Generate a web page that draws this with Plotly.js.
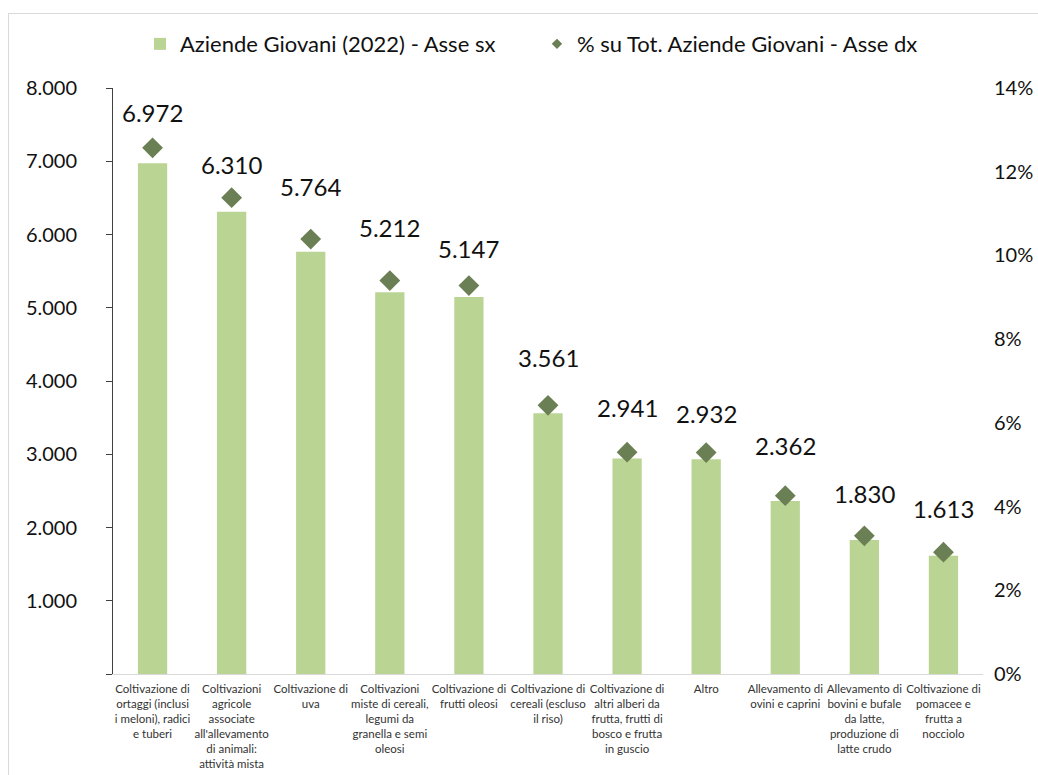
<!DOCTYPE html>
<html>
<head>
<meta charset="utf-8">
<script src="https://cdn.plot.ly/plotly-3.0.1.min.js"></script>
<style>
  html, body { margin: 0; padding: 0; background: #fff; }
  #frame { position: absolute; left: 8px; top: 13px; width: 1100px; height: 800px; border: 1px solid #d9d9d9; pointer-events: none; z-index: 5; }
  #chart { position: absolute; left: 0; top: 0; width: 1038px; height: 775px; }
</style>
</head>
<body>
<div id="chart"></div>
<div id="frame"></div>
<script>
// ---- data ----
const categories = [
  "Coltivazione di ortaggi (inclusi i meloni), radici e tuberi",
  "Coltivazioni agricole associate all'allevamento di animali: attività mista",
  "Coltivazione di uva",
  "Coltivazioni miste di cereali, legumi da granella e semi oleosi",
  "Coltivazione di frutti oleosi",
  "Coltivazione di cereali (escluso il riso)",
  "Coltivazione di altri alberi da frutta, frutti di bosco e frutta in guscio",
  "Altro",
  "Allevamento di ovini e caprini",
  "Allevamento di bovini e bufale da latte, produzione di latte crudo",
  "Coltivazione di pomacee e frutta a nocciolo"
];
const tickLabels = [
  "Coltivazione di<br>ortaggi (inclusi<br>i meloni), radici<br>e tuberi",
  "Coltivazioni<br>agricole<br>associate<br>all'allevamento<br>di animali:<br>attività mista",
  "Coltivazione di<br>uva",
  "Coltivazioni<br>miste di cereali,<br>legumi da<br>granella e semi<br>oleosi",
  "Coltivazione di<br>frutti oleosi",
  "Coltivazione di<br>cereali (escluso<br>il riso)",
  "Coltivazione di<br>altri alberi da<br>frutta, frutti di<br>bosco e frutta<br>in guscio",
  "Altro",
  "Allevamento di<br>ovini e caprini",
  "Allevamento di<br>bovini e bufale<br>da latte,<br>produzione di<br>latte crudo",
  "Coltivazione di<br>pomacee e<br>frutta a<br>nocciolo"
];
const aziendeGiovani = [6972, 6310, 5764, 5212, 5147, 3561, 2941, 2932, 2362, 1830, 1613];
const percTotale = [12.57, 11.38, 10.39, 9.40, 9.28, 6.42, 5.30, 5.29, 4.26, 3.30, 2.91];
const leftTicks = [0, 1000, 2000, 3000, 4000, 5000, 6000, 7000, 8000];

// ---- layout / style ----
const labelShift = [51, 47, 65, 65, 48, 56, 51, 46, 55, 46, 47]; // px above bar top
const FONT = "Lato, 'Open Sans', sans-serif";
const fmt = v => String(v).replace(/\B(?=(\d{3})+(?!\d))/g, ".");

const barTrace = {
  type: "bar",
  name: "Aziende Giovani (2022) - Asse sx",
  x: categories,
  y: aziendeGiovani,
  width: 0.37,
  marker: { color: "#bad494" },
  hoverinfo: "x+y"
};
const diamondTrace = {
  type: "scatter",
  mode: "markers",
  name: "% su Tot. Aziende Giovani - Asse dx",
  x: categories,
  y: percTotale,
  yaxis: "y2",
  marker: { symbol: "diamond", size: 16, color: "#6a7f53" },
  showlegend: false
};
const diamondLegend = {
  type: "scatter",
  mode: "markers",
  name: "% su Tot. Aziende Giovani - Asse dx",
  x: [categories[0]],
  y: [null],
  yaxis: "y2",
  marker: { symbol: "diamond", size: 8, color: "#6a7f53" },
  hoverinfo: "skip"
};

const annotations = categories.map((c, i) => ({
  x: c,
  y: aziendeGiovani[i],
  xref: "x",
  yref: "y",
  text: fmt(aziendeGiovani[i]),
  showarrow: false,
  yanchor: "middle",
  yshift: labelShift[i],
  font: { family: FONT, size: 24, color: "#111" }
}));

const layout = {
  width: 1038,
  height: 775,
  margin: { l: 113, r: 55, t: 88, b: 101 },
  paper_bgcolor: "#fff",
  plot_bgcolor: "#fff",
  font: { family: FONT, size: 20, color: "#111" },
  showlegend: true,
  legend: {
    orientation: "h",
    x: 0.031,
    xanchor: "left",
    y: 1.075,
    yanchor: "middle",
    entrywidth: 352,
    font: { family: FONT, size: 22, color: "#111" },
    itemclick: false
  },
  bargap: 0.63,
  xaxis: {
    type: "category",
    range: [-0.5, categories.length - 0.5],
    autorange: false,
    tickmode: "array",
    tickvals: categories,
    ticktext: tickLabels,
    tickangle: 0,
    showline: true,
    linecolor: "#d9d9d9",
    linewidth: 1,
    ticks: "",
    showgrid: false,
    zeroline: false,
    tickfont: { family: FONT, size: 11.5, color: "#333" },
    ticklabelstandoff: 4,
    fixedrange: true
  },
  yaxis: {
    range: [0, 8000],
    tickmode: "array",
    tickvals: leftTicks,
    ticktext: leftTicks.map(v => v === 0 ? "" : fmt(v)),
    showline: true,
    linecolor: "#404040",
    linewidth: 1,
    ticks: "outside",
    ticklen: 6,
    tickcolor: "#404040",
    showgrid: false,
    zeroline: false,
    tickfont: { family: FONT, size: 20, color: "#111" },
    ticklabelstandoff: 25,
    fixedrange: true
  },
  yaxis2: {
    overlaying: "y",
    side: "right",
    range: [0, 14],
    dtick: 2,
    tick0: 0,
    ticksuffix: "%",
    showline: false,
    ticks: "",
    showgrid: false,
    zeroline: false,
    tickfont: { family: FONT, size: 20, color: "#111" },
    ticklabelstandoff: 10,
    fixedrange: true
  },
  annotations: annotations
};

Plotly.newPlot("chart", [barTrace, diamondTrace, diamondLegend], layout, { displayModeBar: false, staticPlot: true });
</script>
</body>
</html>
